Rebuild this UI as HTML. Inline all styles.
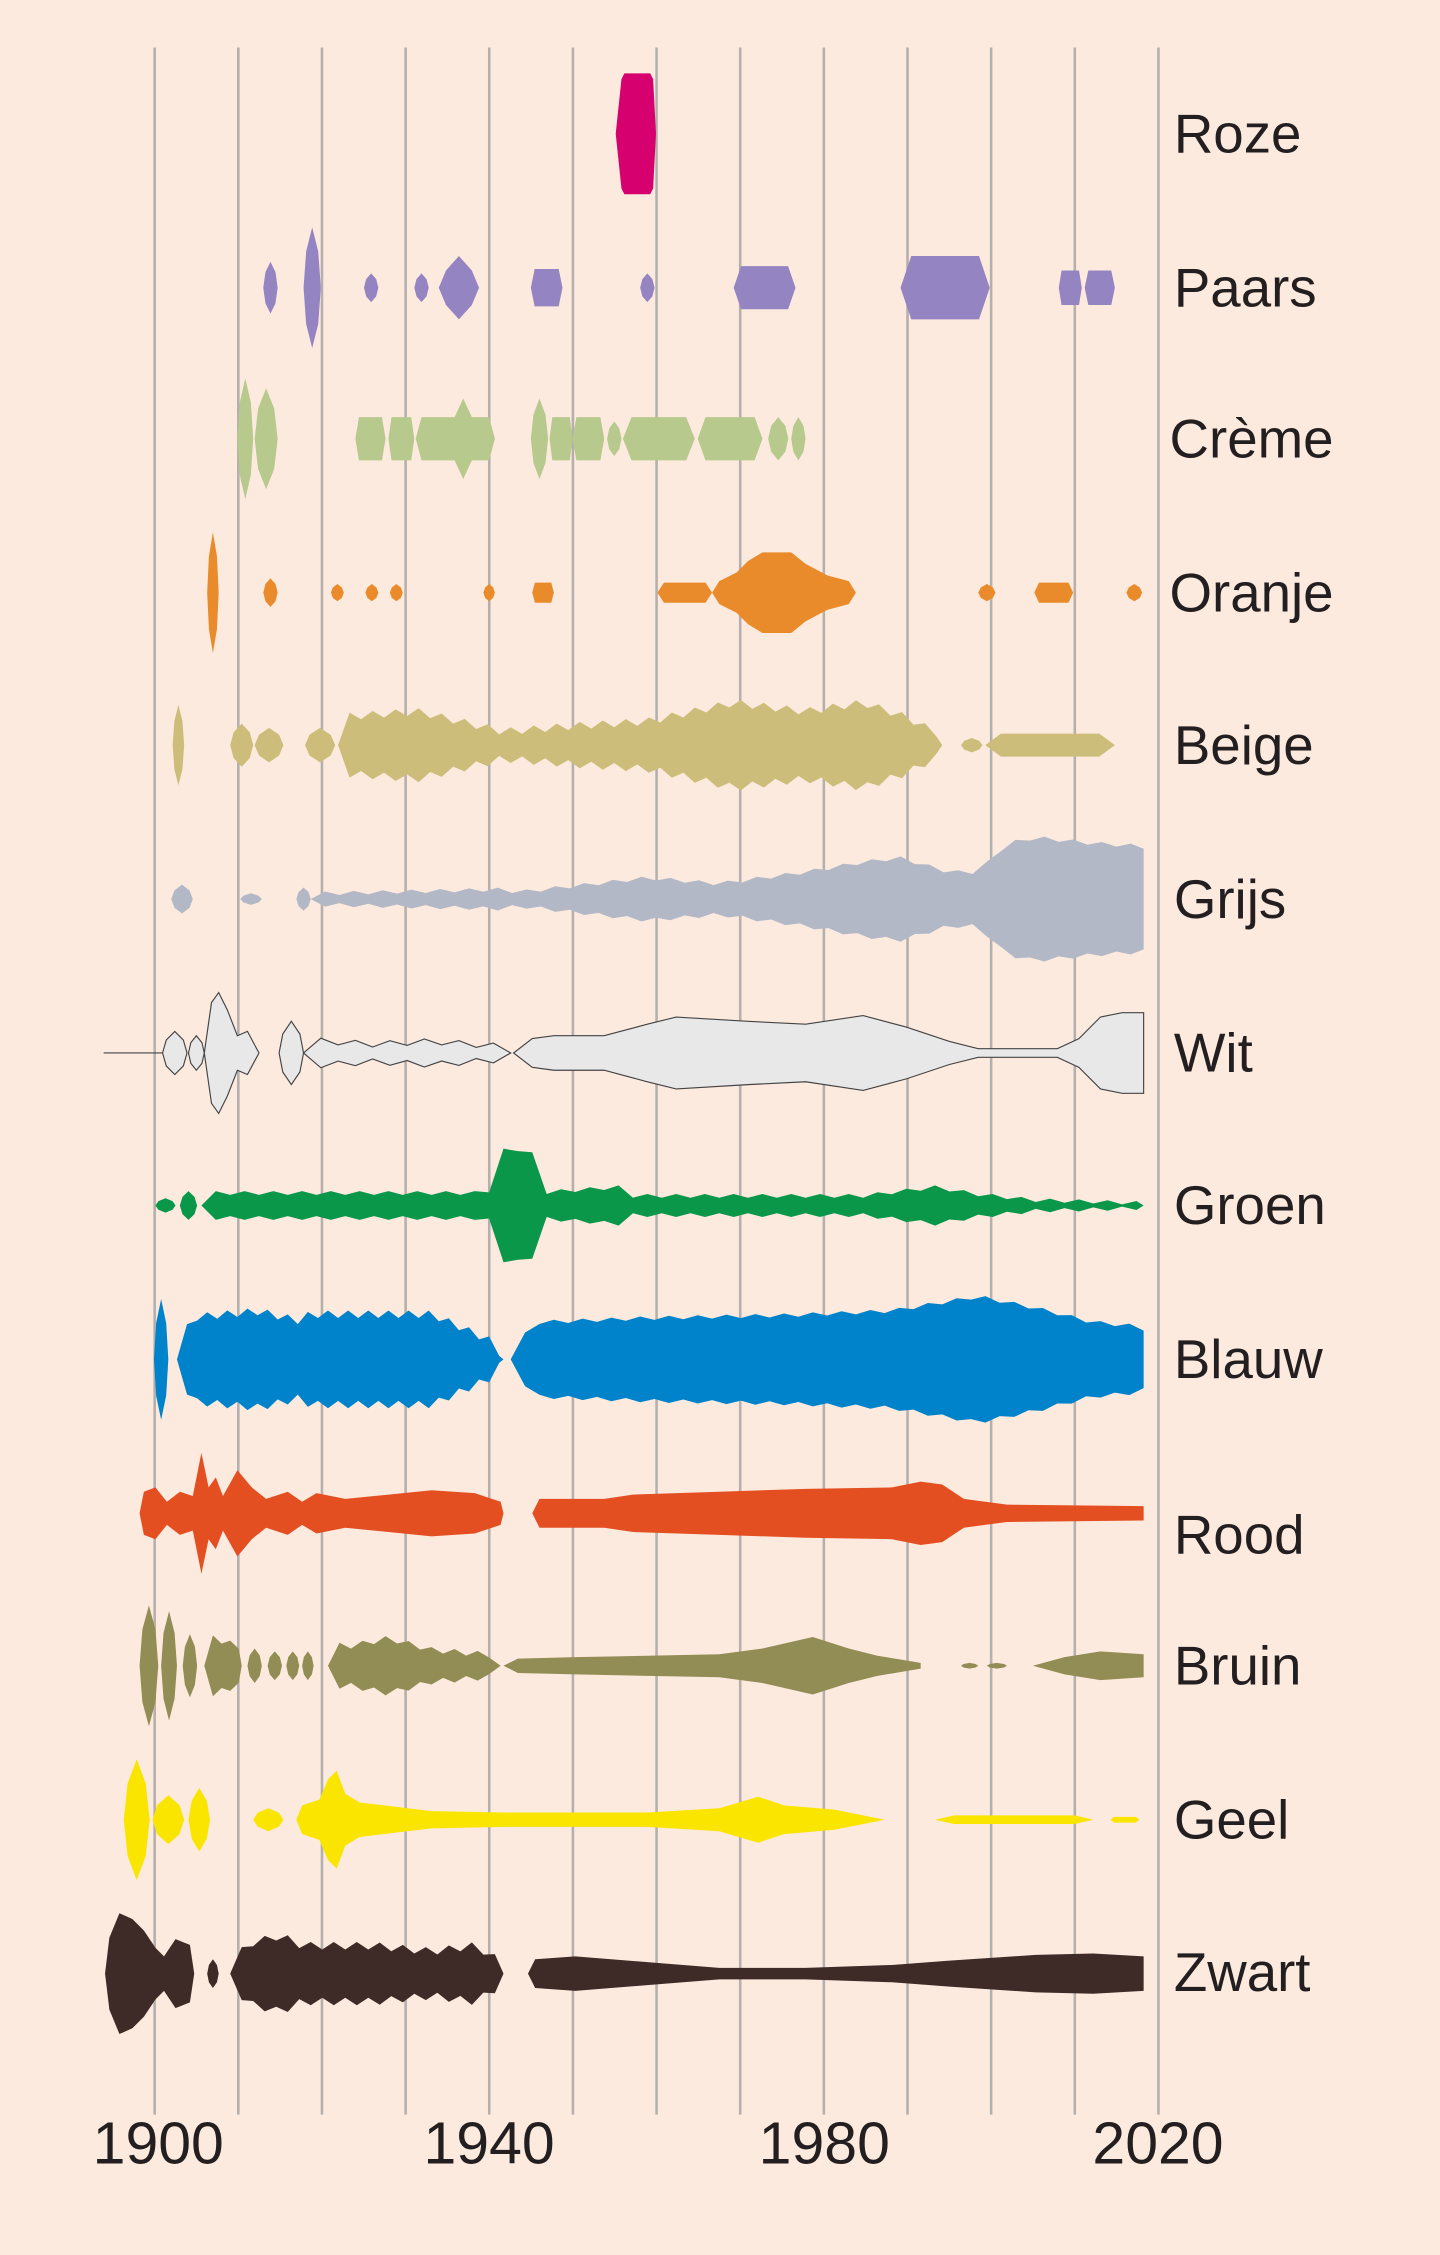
<!DOCTYPE html>
<html><head><meta charset="utf-8"><style>
html,body{margin:0;padding:0;background:#fdeade;}
svg{display:block}
text{font-family:"Liberation Sans",sans-serif;fill:#231f20}
</style></head><body>
<svg id="s" width="1440" height="2255" viewBox="0 0 1001 1567.6" xmlns="http://www.w3.org/2000/svg">
<rect width="1001" height="1567.6" fill="#fdeade"/>
<g id="grid" stroke="#b5b0ad" stroke-width="1.8"></g>
<g id="shapes"></g>
<g font-size="38">
<text x="816" y="106">Roze</text>
<text x="816" y="213">Paars</text>
<text x="813" y="318">Crème</text>
<text x="813" y="425">Oranje</text>
<text x="816" y="531">Beige</text>
<text x="816" y="638">Grijs</text>
<text x="816" y="745">Wit</text>
<text x="816" y="851">Groen</text>
<text x="816" y="958">Blauw</text>
<text x="816" y="1080">Rood</text>
<text x="816" y="1171">Bruin</text>
<text x="816" y="1278">Geel</text>
<text x="816" y="1384">Zwart</text>
</g>
<g font-size="41" text-anchor="middle">
<text x="110" y="1504">1900</text>
<text x="340" y="1504">1940</text>
<text x="573" y="1504">1980</text>
<text x="805" y="1504">2020</text>
</g>
</svg>
<script>
var NS="http://www.w3.org/2000/svg";
var g=document.getElementById('grid');
for(var i=0;i<=12;i++){var x=107.5+i*58.15;var l=document.createElementNS(NS,'line');l.setAttribute('x1',x);l.setAttribute('x2',x);l.setAttribute('y1',33);l.setAttribute('y2',1470);g.appendChild(l);}
var sh=document.getElementById('shapes');
function blob(a,b,h){var m=(a+b)/2;return [[a,0],[a+(b-a)*0.15,h*0.6],[m,h],[b-(b-a)*0.15,h*0.6],[b,0]];}
function flat(a,b,h){return [[a,0],[a+(b-a)*0.12,h],[b-(b-a)*0.12,h],[b,0]];}
function seg(pts,y){var d='M'+pts[0][0]+','+y;for(var i=1;i<pts.length;i++)d+='L'+pts[i][0]+','+(y-pts[i][1]);for(var i=pts.length-1;i>=0;i--)d+='L'+pts[i][0]+','+(y+pts[i][1]);return d+'Z';}
function wig(a,b,base,amp,step){var p=[[a,0]];var k=0;for(var x=a+step;x<b;x+=step){k++;p.push([x,base(x)+((k%2)?amp:-amp*0.3)]);}p.push([b,0]);return p;}
function draw(y,color,segs,stroke){var d='';segs.forEach(function(s){d+=seg(s,y);});var p=document.createElementNS(NS,'path');p.setAttribute('d',d);p.setAttribute('fill',color);if(stroke){p.setAttribute('stroke',stroke);p.setAttribute('stroke-width','0.8');}sh.appendChild(p);}
function lerp(pts){return function(x){for(var i=0;i<pts.length-1;i++){if(x>=pts[i][0]&&x<=pts[i+1][0]){var t=(x-pts[i][0])/(pts[i+1][0]-pts[i][0]);return pts[i][1]+t*(pts[i+1][1]-pts[i][1]);}}return pts[pts.length-1][1];};}
// Roze
draw(93,'#d6006f',[[[428,0],[432,38],[434,42],[452,42],[454,38],[456,0]]]);
// Paars
draw(200,'#9485c2',[blob(183,193,18),blob(211,223,42),blob(253,263,10),blob(288,298,10),[[305,0],[310,12],[319,22],[328,12],[333,0]],flat(369,391,13),blob(445,455,10),flat(510,553,15),flat(626,688,22),flat(736,752,12),flat(754,775,12)]);
// Creme
draw(305,'#b7c98c',[blob(165,176,42),blob(177,193,35),flat(247,268,15),flat(270,288,15),[[289,0],[293,15],[316,15],[322,28],[328,15],[340,15],[344,0]],blob(369,381,28),flat(382,398,15),flat(398,420,15),blob(422,432,12),flat(433,483,15),flat(485,530,15),blob(534,548,15),blob(550,560,15)]);
// Oranje
draw(412,'#e98b2a',[blob(144,152,42),blob(183,193,10),blob(230,239,6),blob(254,263,6),blob(271,280,6),blob(336,344,6),flat(370,385,7),flat(457,495,7),[[495,0],[500,8],[512,14],[520,22],[530,28],[550,28],[560,20],[575,12],[590,8],[595,0]],blob(680,692,6),flat(719,746,7),blob(783,794,6)]);
// Beige
draw(518,'#cdbd7a',[blob(120,128,28),blob(160,176,15),blob(177,197,12),blob(212,233,12),
 wig(235,655,lerp([[235,18],[290,22],[350,8],[400,12],[450,15],[510,28],[560,22],[600,28],[630,18],[655,5]]),4,8),
 blob(668,683,5),flat(685,775,8)]);
// Grijs
draw(625,'#b2b8c6',[blob(119,134,10),blob(167,182,4),blob(206,216,8),
 wig(216,795,lerp([[216,3],[350,6],[360,4],[450,14],[500,10],[560,18],[600,25],[625,28],[660,18],[680,18],[700,38],[720,42],[760,38],[795,36]]),2,10).slice(0,-1).concat([[795,35]])]);
// Wit
(function(){var l=document.createElementNS(NS,'line');l.setAttribute('x1',72);l.setAttribute('x2',115);l.setAttribute('y1',732);l.setAttribute('y2',732);l.setAttribute('stroke','#444');l.setAttribute('stroke-width','0.8');sh.appendChild(l);})();
draw(732,'#e8e8e8',[blob(113,130,15),blob(131,142,12),[[142,0],[147,35],[152,42],[158,30],[165,12],[172,15],[180,0]],blob(194,211,22),
 wig(211,355,lerp([[211,8],[260,5],[300,7],[355,3]]),3,12),
 [[357,0],[370,10],[385,12],[420,12],[450,20],[470,25],[520,22],[560,20],[600,26],[630,18],[660,8],[680,3],[735,3],[750,10],[765,25],[780,28],[795,28],[795,0]]],'#444');
// Groen
draw(838,'#0a974a',[blob(108,122,5),blob(125,137,10),
 wig(140,795,lerp([[140,8],[330,8],[342,10],[345,35],[355,40],[370,35],[372,8],[430,12],[440,6],[600,6],[650,12],[680,7],[720,3],[795,1]]),2,10)]);
// Blauw
draw(945,'#0083ca',[blob(107,117,42),
 wig(123,350,lerp([[123,10],[135,28],[180,32],[210,25],[215,30],[300,30],[340,12],[350,0]]),4,7),
 wig(355,795,lerp([[355,0],[370,25],[450,28],[550,30],[620,33],[680,43],[720,35],[760,25],[795,22]]),2,10).slice(0,-1).concat([[795,20]])]);
// Rood
draw(1052,'#e44f22',[[[97,0],[100,15],[108,18],[116,8],[125,15],[134,12],[140,42],[145,18],[150,25],[155,12],[165,30],[175,18],[185,10],[200,15],[210,8],[220,14],[240,10],[300,16],[330,14],[348,8],[350,0]],
 [[370,0],[375,10],[420,10],[440,13],[500,15],[560,17],[620,18],[640,22],[655,20],[670,10],[700,6],[795,5],[795,0]]]);
// Bruin
draw(1158,'#928c55',[blob(97,110,42),blob(112,123,38),blob(127,137,22),wig(142,168,lerp([[142,20],[168,12]]),3,6),blob(172,182,12),blob(186,196,10),blob(199,208,10),blob(210,218,10),
 wig(228,348,lerp([[228,15],[240,12],[270,18],[300,10],[348,6]]),3,8),
 [[350,0],[360,5],[400,6],[500,8],[530,12],[565,20],[590,12],[610,7],[640,2],[640,0]],blob(668,680,2),blob(686,700,2),[[718,0],[740,6],[765,10],[795,8],[795,0]]]);
// Geel
draw(1265,'#f9e500',[blob(86,104,42),blob(106,128,17),blob(131,146,22),blob(176,197,8),[[206,0],[210,10],[222,14],[228,28],[234,34],[240,18],[250,12],[300,6],[350,5],[450,5],[500,8],[527,16],[545,10],[580,7],[615,0]],flat(650,760,3),flat(772,792,2)]);
// Zwart
draw(1372,'#3e2b28',[[[73,0],[76,25],[83,42],[92,38],[100,30],[108,18],[114,12],[122,24],[132,20],[135,0]],blob(144,152,10),
 wig(160,350,lerp([[160,8],[175,20],[195,25],[210,18],[260,18],[300,14],[330,18],[350,6]]),4,8),
 [[367,0],[372,10],[400,12],[450,8],[500,4],[560,4],[620,6],[660,9],[720,13],[760,14],[795,12],[795,0]]]);
</script>
</body></html>
